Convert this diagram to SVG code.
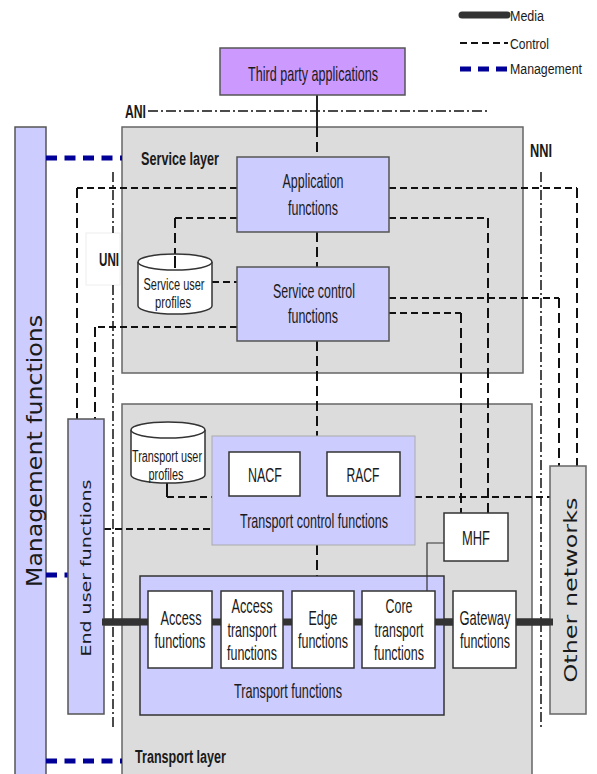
<svg xmlns="http://www.w3.org/2000/svg" width="597" height="774" viewBox="0 0 597 774">
<style>
text{font-family:"Liberation Sans",Arial,sans-serif;fill:#1a1a1a}
.lbl{font-size:21px;text-anchor:middle}
.sm{font-size:16px;text-anchor:middle}
.b{font-size:18px;font-weight:bold}
.leg{font-size:14px}
.vt{font-family:"DejaVu Sans",Verdana,sans-serif;text-anchor:middle}
.gray{fill:#dcdcdc;stroke:#666;stroke-width:1.5}
.lav{fill:#ccccff;stroke:#555;stroke-width:1.5}
.wb{fill:#fff;stroke:#333;stroke-width:1.5}
.ctl{fill:none;stroke:#111;stroke-width:2;stroke-dasharray:7 4}
.ctlv{fill:none;stroke:#111;stroke-width:2;stroke-dasharray:10 5}
.dd{fill:none;stroke:#111;stroke-width:1.5;stroke-dasharray:10 3 2 3}
.mgmt{fill:none;stroke:#000099;stroke-width:5;stroke-dasharray:11 7.5}
.media{fill:none;stroke:#333;stroke-width:7}
</style>

<!-- legend -->
<g id="legend">
<line x1="462" y1="15" x2="507" y2="15" stroke="#333" stroke-width="7" stroke-linecap="round"/>
<text class="leg" x="510" y="21" textLength="34" lengthAdjust="spacingAndGlyphs">Media</text>
<line x1="460" y1="43" x2="508" y2="43" class="ctl" stroke-dasharray="2 4 7 3 7 3 7 3 7 3"/>
<text class="leg" x="510" y="49" textLength="39" lengthAdjust="spacingAndGlyphs">Control</text>
<line x1="460" y1="69" x2="508" y2="69" stroke="#000099" stroke-width="5" stroke-dasharray="11 7"/>
<text class="leg" x="510" y="74" textLength="72" lengthAdjust="spacingAndGlyphs">Management</text>
</g>

<!-- layers -->
<g id="management-functions">
<rect x="15" y="127" width="31" height="660" class="lav"/>
<text class="vt" font-size="21" transform="translate(42,451) rotate(-90)" x="0" y="0" textLength="272" lengthAdjust="spacingAndGlyphs">Management functions</text>
</g>
<g id="service-layer">
<rect x="122" y="127" width="401" height="246" class="gray"/>
<text class="b" x="141" y="165" textLength="78" lengthAdjust="spacingAndGlyphs">Service layer</text>
</g>
<g id="transport-layer">
<rect x="122" y="404" width="410" height="390" class="gray"/>
<text class="b" x="135" y="763" textLength="91" lengthAdjust="spacingAndGlyphs">Transport layer</text>
</g>
<g id="uni-label">
<rect x="86" y="233" width="34" height="52" fill="#fff" stroke="#eee" stroke-width="1"/>
</g>

<!-- connectors -->
<g id="connectors">
<line x1="148" y1="111" x2="488" y2="111" class="dd" stroke-width="2"/>
<line x1="113" y1="172" x2="113" y2="233" class="dd"/>
<line x1="113" y1="285" x2="113" y2="730" class="dd"/>
<line x1="541" y1="172" x2="541" y2="730" class="dd"/>
<line x1="46" y1="158" x2="122" y2="158" class="mgmt"/>
<line x1="46" y1="575" x2="68" y2="575" class="mgmt"/>
<line x1="46" y1="761" x2="122" y2="761" class="mgmt"/>
<line x1="317" y1="95" x2="317" y2="127" stroke="#222" stroke-width="2"/>
<line x1="317" y1="127" x2="317" y2="157" class="ctlv"/>
<line x1="317" y1="232" x2="317" y2="267" class="ctlv"/>
<line x1="317" y1="341" x2="317" y2="436" class="ctlv"/>
<line x1="317" y1="545" x2="317" y2="576" class="ctlv"/>
<polyline points="237,188 77,188" class="ctl"/>
<polyline points="77,188 77,419" class="ctlv"/>
<polyline points="237,218 175,218" class="ctl"/>
<polyline points="175,218 175,268" class="ctlv"/>
<polyline points="389,188 577,188" class="ctl"/>
<polyline points="577,188 577,466" class="ctlv"/>
<polyline points="389,218 488,218" class="ctl"/>
<polyline points="488,218 488,513" class="ctlv"/>
<line x1="212" y1="282" x2="237" y2="282" class="ctl"/>
<polyline points="237,327 95,327" class="ctl"/>
<polyline points="95,327 95,419" class="ctlv"/>
<polyline points="389,298 559,298" class="ctl"/>
<polyline points="559,298 559,466" class="ctlv"/>
<polyline points="389,313 461,313" class="ctl"/>
<polyline points="461,313 461,513" class="ctlv"/>
<line x1="167" y1="483" x2="167" y2="497" stroke="#111" stroke-width="2"/>
<line x1="167" y1="497" x2="212" y2="497" class="ctl"/>
<line x1="415" y1="497" x2="550" y2="497" class="ctl"/>
<line x1="104" y1="529" x2="212" y2="529" class="ctl" stroke-width="1.5"/>
<line x1="300" y1="468" x2="327" y2="468" class="ctl" stroke-width="3" stroke-dasharray="6 3"/>
<line x1="102" y1="622" x2="553" y2="622" class="media"/>
</g>

<!-- nodes -->
<g id="third-party-applications">
<rect x="220" y="48" width="185" height="47" fill="#cc99ff" stroke="#555" stroke-width="1.5"/>
<text class="lbl" x="313" y="81" textLength="130" lengthAdjust="spacingAndGlyphs">Third party applications</text>
</g>
<g id="application-functions">
<rect x="237" y="157" width="152" height="75" class="lav"/>
<text class="lbl" x="313" y="188" textLength="61" lengthAdjust="spacingAndGlyphs">Application</text>
<text class="lbl" x="313" y="215" textLength="50" lengthAdjust="spacingAndGlyphs">functions</text>
</g>
<g id="uni-text">
<text class="b" x="99" y="266" textLength="20" lengthAdjust="spacingAndGlyphs">UNI</text>
</g>
<g id="ani-nni-text">
<text class="b" x="125" y="118" textLength="21" lengthAdjust="spacingAndGlyphs">ANI</text>
<text class="b" x="530" y="157" textLength="22" lengthAdjust="spacingAndGlyphs">NNI</text>
</g>
<g id="service-user-profiles">
<path d="M138,262 L138,306 A37,8 0 0 0 212,306 L212,262" fill="#fff" stroke="#333" stroke-width="1.5"/>
<ellipse cx="175" cy="262" rx="37" ry="8" fill="#fff" stroke="#333" stroke-width="1.5"/>
<line x1="175" y1="256" x2="175" y2="268" stroke="#111" stroke-width="2"/>
<text class="sm" x="174" y="290" textLength="61" lengthAdjust="spacingAndGlyphs">Service user</text>
<text class="sm" x="173" y="308" textLength="36" lengthAdjust="spacingAndGlyphs">profiles</text>
</g>
<g id="service-control-functions">
<rect x="237" y="267" width="152" height="74" class="lav"/>
<text class="lbl" x="314" y="298" textLength="82" lengthAdjust="spacingAndGlyphs">Service control</text>
<text class="lbl" x="313" y="323" textLength="50" lengthAdjust="spacingAndGlyphs">functions</text>
</g>
<g id="end-user-functions">
<rect x="68" y="419" width="36" height="295" class="lav"/>
<text class="vt" font-size="14" transform="translate(91,568) rotate(-90)" x="0" y="0" textLength="177" lengthAdjust="spacingAndGlyphs">End user functions</text>
</g>
<g id="transport-user-profiles">
<path d="M131,430 L131,475 A37,8 0 0 0 205,475 L205,430" fill="#fff" stroke="#333" stroke-width="1.5"/>
<ellipse cx="168" cy="430" rx="37" ry="8" fill="#fff" stroke="#333" stroke-width="1.5"/>
<text class="sm" x="167" y="462" textLength="70" lengthAdjust="spacingAndGlyphs">Transport user</text>
<text class="sm" x="166" y="480" textLength="35" lengthAdjust="spacingAndGlyphs">profiles</text>
</g>
<g id="transport-control-functions">
<rect x="212" y="436" width="203" height="109" fill="#ccccff" stroke="#aaa" stroke-width="1"/>
<text class="lbl" x="314" y="528" font-size="17" textLength="148" lengthAdjust="spacingAndGlyphs">Transport control functions</text>
</g>
<g id="nacf">
<rect x="229" y="452" width="71" height="44" class="wb"/>
<text class="lbl" x="265" y="482" textLength="34" lengthAdjust="spacingAndGlyphs">NACF</text>
</g>
<g id="racf">
<rect x="327" y="452" width="73" height="44" class="wb"/>
<text class="lbl" x="363" y="482" textLength="33" lengthAdjust="spacingAndGlyphs">RACF</text>
</g>
<g id="mhf">
<rect x="444" y="513" width="64" height="48" class="wb"/>
<text class="lbl" x="476" y="545" textLength="28" lengthAdjust="spacingAndGlyphs">MHF</text>
</g>
<g id="other-networks">
<rect x="550" y="466" width="36" height="248" class="gray"/>
<text class="vt" font-size="18" transform="translate(577,590) rotate(-90)" x="0" y="0" textLength="185" lengthAdjust="spacingAndGlyphs">Other networks</text>
</g>
<g id="transport-functions">
<rect x="140" y="576" width="304" height="139" fill="#ccccff" stroke="#333" stroke-width="1.5"/>
<line x1="102" y1="622" x2="553" y2="622" class="media"/>
<text class="lbl" x="288" y="698" textLength="108" lengthAdjust="spacingAndGlyphs">Transport functions</text>
</g>
<g id="access-functions">
<rect x="148" y="591" width="64" height="77" class="wb"/>
<text class="lbl" x="181" y="625" textLength="41" lengthAdjust="spacingAndGlyphs">Access</text>
<text class="lbl" x="180" y="648" textLength="51" lengthAdjust="spacingAndGlyphs">functions</text>
</g>
<g id="access-transport-functions">
<rect x="221" y="591" width="62" height="77" class="wb"/>
<text class="lbl" x="252" y="613" textLength="41" lengthAdjust="spacingAndGlyphs">Access</text>
<text class="lbl" x="252" y="637" textLength="49" lengthAdjust="spacingAndGlyphs">transport</text>
<text class="lbl" x="252" y="660" textLength="50" lengthAdjust="spacingAndGlyphs">functions</text>
</g>
<g id="edge-functions">
<rect x="292" y="591" width="62" height="77" class="wb"/>
<text class="lbl" x="323" y="625" textLength="29" lengthAdjust="spacingAndGlyphs">Edge</text>
<text class="lbl" x="323" y="648" textLength="50" lengthAdjust="spacingAndGlyphs">functions</text>
</g>
<g id="core-transport-functions">
<rect x="362" y="591" width="73" height="77" class="wb"/>
<text class="lbl" x="399" y="613" textLength="27" lengthAdjust="spacingAndGlyphs">Core</text>
<text class="lbl" x="399" y="637" textLength="49" lengthAdjust="spacingAndGlyphs">transport</text>
<text class="lbl" x="399" y="660" textLength="50" lengthAdjust="spacingAndGlyphs">functions</text>
</g>
<g id="gateway-functions">
<rect x="453" y="591" width="63" height="77" class="wb"/>
<text class="lbl" x="485" y="625" textLength="51" lengthAdjust="spacingAndGlyphs">Gateway</text>
<text class="lbl" x="485" y="648" textLength="50" lengthAdjust="spacingAndGlyphs">functions</text>
</g>
<g id="mhf-link">
<polyline points="444,543 427,543 427,591" fill="none" stroke="#333" stroke-width="1.2"/>
</g>
</svg>
